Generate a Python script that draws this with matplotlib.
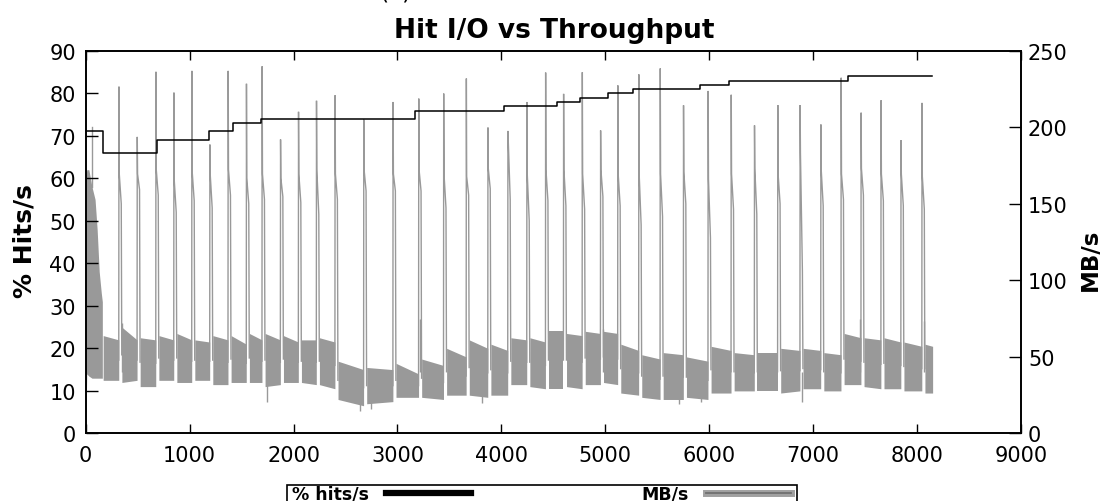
import matplotlib
matplotlib.use("Agg")
import matplotlib.pyplot as plt
from matplotlib.lines import Line2D
from matplotlib.patches import Rectangle

# ---------------- data ----------------
# % hits/s, a step series: each value holds from its x until the next x
HIT_X = [0, 165, 688, 1186, 1416, 1686, 3173, 4025, 4538, 4760, 5029, 5265, 5913, 6186, 7340, 8140]
HIT_Y = [71.0, 65.9, 69.0, 71.0, 73.0, 74.0, 75.9, 77.0, 78.0, 78.9, 80.0, 80.9, 82.0, 82.9, 83.9, 83.9]

# MB/s: warm-up burst at the start (envelope of the dense samples)
INIT_X = [0, 10, 30, 60, 90, 110, 130, 150, 160]
INIT_HI = [166.7, 172.2, 172.2, 161.1, 152.8, 133.3, 105.6, 91.7, 86.0]
INIT_LO = [0.0, 38.9, 37.5, 36.1, 36.1, 36.1, 36.1, 36.1, 36.1]
INIT_PEAK_X = 58
INIT_PEAK = 200.0

# MB/s: periodic bursts (peak sample, then a short decaying plateau)
SPIKE_X = [320, 496, 676, 849, 1022, 1195, 1371, 1547, 1698, 1875,
           2048, 2221, 2400, 2676, 2958, 3205, 3445, 3663, 3871, 4063,
           4246, 4426, 4599, 4779, 4955, 5121, 5323, 5529, 5753, 5990,
           6212, 6436, 6660, 6875, 7075, 7270, 7462, 7654, 7846, 8048]
SPIKE_PEAK = [226.4, 193.6, 236.1, 222.5, 236.7, 188.6, 236.7, 228.3, 239.7, 191.9,
              210.0, 217.2, 220.8, 205.0, 216.4, 218.6, 221.9, 231.7, 199.7, 197.5,
              216.4, 235.6, 221.7, 235.8, 197.8, 227.2, 234.4, 238.3, 214.2, 223.6,
              221.1, 201.1, 214.4, 214.4, 201.7, 232.2, 209.4, 217.5, 191.4, 215.8]
PLATEAU_TOP = [169.4, 169.4, 172.2, 165.3, 170.6, 169.4, 172.2, 166.7, 169.4, 166.7,
               169.4, 172.2, 169.4, 172.2, 169.4, 172.2, 169.4, 167.8, 173.0, 191.7,
               169.4, 172.2, 172.2, 169.4, 172.2, 169.4, 169.4, 169.4, 170.8, 166.1,
               169.4, 173.0, 169.4, 183.3, 172.2, 169.4, 173.0, 169.4, 169.4, 167.8]
PLATEAU_BOT = [150.0, 159.2, 155.6, 144.4, 151.9, 147.2, 155.6, 150.0, 152.8, 154.7,
               150.8, 143.1, 152.8, 158.3, 158.3, 158.3, 147.2, 155.6, 159.7, 152.8,
               138.9, 151.9, 148.6, 146.4, 154.7, 148.6, 136.1, 141.7, 150.0, 127.8,
               146.4, 143.1, 150.0, 105.6, 148.6, 152.8, 155.6, 151.9, 148.6, 146.4]

# MB/s: steady-state band between bursts (upper / lower edge at start and end)
BAND_HI_START = [63.9, 69.4, 62.5, 63.9, 65.3, 61.1, 63.9, 63.9, 65.3, 65.3,
                 63.9, 61.1, 62.5, 47.2, 43.1, 45.8, 48.6, 55.6, 61.1, 58.3,
                 62.5, 62.5, 66.7, 65.3, 66.7, 66.7, 58.3, 51.4, 52.8, 50.0,
                 56.9, 52.8, 52.8, 55.6, 55.6, 52.8, 65.3, 62.5, 62.5, 59.7, 58.3]
BAND_HI_END = [61.1, 61.1, 61.1, 61.1, 61.1, 59.7, 61.1, 58.3, 61.1, 61.1,
               59.7, 61.1, 59.7, 41.7, 41.7, 38.9, 44.4, 50.0, 55.6, 54.2,
               61.1, 59.7, 66.7, 63.9, 65.3, 65.3, 54.2, 48.6, 51.4, 47.2,
               54.2, 51.4, 52.8, 54.2, 54.2, 51.4, 62.5, 61.1, 59.7, 56.9, 56.9]
BAND_LO_START = [34.7, 33.3, 30.6, 34.7, 33.3, 34.7, 31.9, 33.3, 33.3, 30.6,
                 33.3, 33.3, 31.9, 22.2, 19.4, 23.6, 23.6, 25.0, 25.0, 25.0,
                 31.9, 30.6, 29.2, 30.6, 31.9, 33.3, 26.4, 23.6, 22.2, 23.6,
                 26.4, 27.8, 27.8, 26.4, 29.2, 27.8, 31.9, 30.6, 29.2, 27.8, 26.4]
BAND_LO_END = [34.7, 34.7, 30.6, 34.7, 33.3, 34.7, 31.9, 33.3, 33.3, 31.9,
               33.3, 31.9, 29.2, 18.1, 20.8, 23.6, 22.2, 25.0, 23.6, 25.0,
               31.9, 29.2, 29.2, 29.2, 31.9, 31.9, 25.0, 22.2, 22.2, 22.2,
               26.4, 27.8, 27.8, 27.8, 29.2, 27.8, 31.9, 29.2, 29.2, 27.8, 26.4]
BAND_START_X = 168
END_X = 8150

# isolated low / high samples inside the band
DIP_X = [1740, 2637, 2749, 3817, 5714, 5923, 6897]
DIP_Y = [20.8, 14.7, 16.1, 20.0, 19.4, 20.3, 20.3]
UP_X = [346, 3215, 4975, 7455, 8070]
UP_Y = [72.2, 75.0, 68.1, 75.0, 73.6]

X_TICKS = list(range(0, 9001, 1000))
HIT_TICKS = list(range(0, 91, 10))
MB_TICKS = list(range(0, 251, 50))

GRAY = "#999999"

# ---------------- figure ----------------
plt.rcParams["font.family"] = ["DejaVu Sans"]
W, H = 1106, 502
fig = plt.figure(figsize=(W / 100, H / 100), dpi=100)
ax = fig.add_axes([0.0775, 0.1345, 0.8456, 0.7629])
ax2 = ax.twinx()

# throughput on the right-hand axis
ax2.fill_between(INIT_X, INIT_LO, INIT_HI, color=GRAY, lw=0)
ax2.plot([INIT_PEAK_X, INIT_PEAK_X], [INIT_HI[3], INIT_PEAK], color=GRAY, lw=1.0)

n_seg = len(BAND_HI_START)
for k in range(n_seg):
    xs = BAND_START_X if k == 0 else SPIKE_X[k - 1] + 28
    xe = SPIKE_X[k] - 2 if k < len(SPIKE_X) else END_X
    ax2.fill_between([xs, xe], [BAND_LO_START[k], BAND_LO_END[k]],
                     [BAND_HI_START[k], BAND_HI_END[k]], color=GRAY, lw=0)

for i, x0 in enumerate(SPIKE_X):
    y_before = 0.5 * (BAND_LO_END[i] + BAND_HI_END[i])
    y_after = 0.5 * (BAND_LO_START[i + 1] + BAND_HI_START[i + 1])
    ax2.plot([x0 - 2, x0, x0 + 3, x0 + 22, x0 + 27],
             [y_before, SPIKE_PEAK[i], PLATEAU_TOP[i], PLATEAU_BOT[i], y_after],
             color=GRAY, lw=1.0, solid_joinstyle="miter")

ax2.vlines(DIP_X, DIP_Y, 40, color=GRAY, lw=1.0)
ax2.vlines(UP_X, 40, UP_Y, color=GRAY, lw=1.0)

# hit-rate step line on the left-hand axis, drawn above the throughput
ax.step(HIT_X, HIT_Y, where="post", color="black", lw=1.1)
ax.set_zorder(ax2.get_zorder() + 1)
ax.patch.set_visible(False)

# axes limits and ticks
ax.set_xlim(0, 9000)
ax.set_ylim(0, 90)
ax2.set_ylim(0, 250)
ax.set_xticks(X_TICKS)
ax.set_yticks(HIT_TICKS)
ax2.set_yticks(MB_TICKS)

ax.tick_params(axis="x", direction="in", length=6.5, width=1.0, top=True,
               labelsize=15, pad=8)
ax.tick_params(axis="y", direction="in", length=8.6, width=1.0, right=False,
               labelsize=15, pad=7)
ax2.tick_params(axis="y", direction="in", length=8.6, width=1.0,
                labelsize=15, pad=5)
for a in (ax, ax2):
    for s in a.spines.values():
        s.set_linewidth(1.2)
        s.set_color("black")

ax.set_ylabel("% Hits/s", fontsize=18, fontweight="bold")
ax.yaxis.label.set_va("center")
ax.yaxis.set_label_coords(-0.065, 0.505)
ax2.set_ylabel("MB/s", fontsize=16.5, fontweight="bold", rotation=90)
ax2.yaxis.label.set_va("center")
ax2.yaxis.set_label_coords(1.074, 0.455)

fig.text(554 / W, 1 - 38 / H, "Hit I/O vs Throughput", ha="center",
         va="baseline", fontsize=19, fontweight="bold")
fig.text(396 / W, 1.0 + 1 / H, "(c)", ha="center", va="baseline", fontsize=17)

# legend box below the plot (runs off the bottom edge), label before sample
fig.patches.append(Rectangle((287 / W, -0.05), 510 / W, 0.05 + 1 - 485.5 / H,
                             transform=fig.transFigure, facecolor="white",
                             edgecolor="black", lw=1.2, zorder=1))
h_hits = Line2D([], [], color="black", lw=4.5)
h_mb_outer = Line2D([], [], color="#a0a0a0", lw=5.0)
h_mb_inner = Line2D([], [], color="#707070", lw=1.3)
leg = fig.legend([h_hits, (h_mb_outer, h_mb_inner)], ["% hits/s", "MB/s"],
                 loc="upper left", bbox_to_anchor=(292 / W, 1 - 486 / H),
                 bbox_transform=fig.transFigure, ncol=2, markerfirst=False,
                 frameon=False, prop={"size": 12.5, "weight": "bold"},
                 handlelength=4.9, handletextpad=1.0, columnspacing=9.8,
                 borderpad=0, borderaxespad=0)
leg.set_zorder(2)

fig.savefig("out.png", dpi=100)
